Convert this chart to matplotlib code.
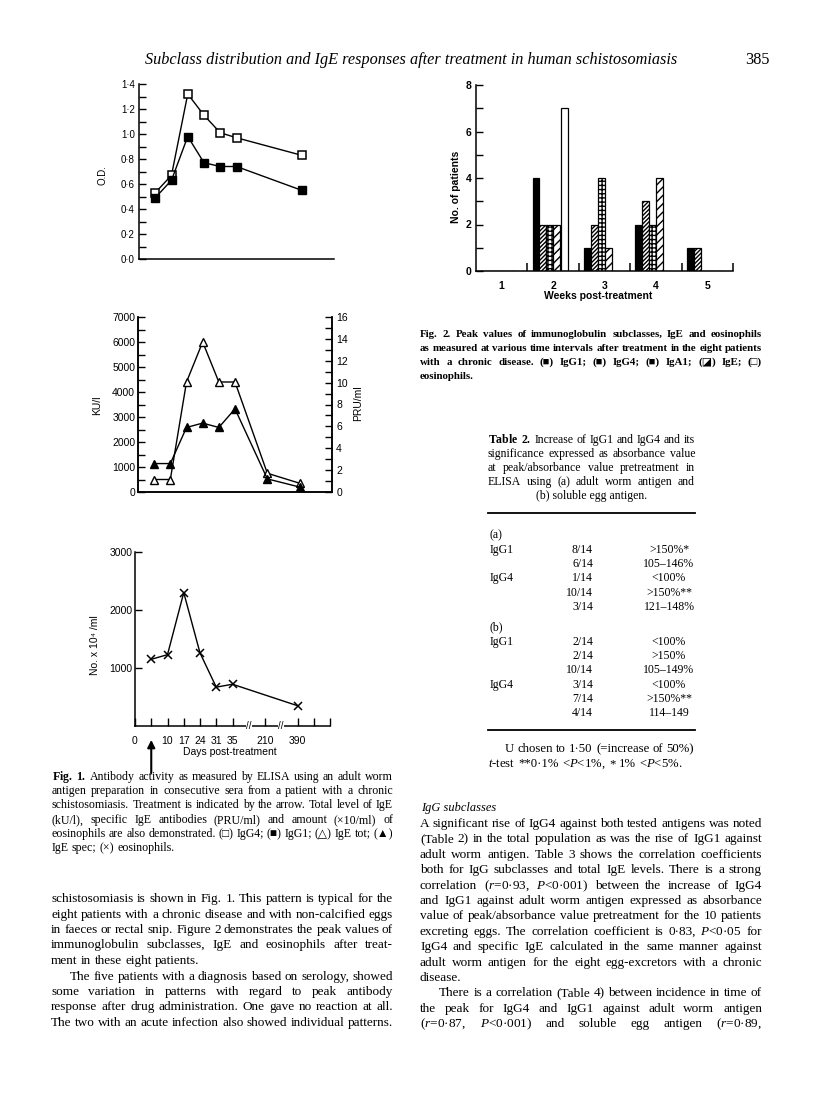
import matplotlib
matplotlib.use('Agg')
import matplotlib.pyplot as plt
from matplotlib.ticker import MultipleLocator, FuncFormatter
import matplotlib.transforms as mtransforms

W, H = 816, 1114

plt.rcParams.update({
    'font.family': ['Liberation Sans', 'DejaVu Sans'],
    'mathtext.fontset': 'custom',
    'mathtext.rm': 'Liberation Serif',
    'mathtext.it': 'Liberation Serif:italic',
    'mathtext.bf': 'Liberation Serif:bold',
    'hatch.linewidth': 1.0,
    'axes.linewidth': 1.1,
})
SERIF = ['Liberation Serif', 'DejaVu Sans']

# ---- Fig. 1 data (positions on the broken day axis) ----
pos_od = [1, 2, 3, 4, 5, 6, 10]
igg4 = [0.53, 0.67, 1.32, 1.15, 1.01, 0.97, 0.83]
igg1 = [0.49, 0.63, 0.98, 0.77, 0.74, 0.74, 0.55]

pos_ige = [1, 2, 3, 4, 5, 6, 8, 10]
ige_tot = [500, 500, 4400, 6000, 4400, 4400, 750, 350]       # KU/l
ige_spec = [2.6, 2.6, 5.9, 6.3, 5.9, 7.6, 1.2, 0.45]         # PRU/ml

pos_eos = [1, 2, 3, 4, 5, 6, 10]
eos = [1150, 1230, 2300, 1260, 670, 720, 350]

day_ticks = [0, 1, 2, 3, 4, 5, 6, 8, 10, 11, 12]
day_labels = ['0', '', '10', '17', '24', '31', '35', '210', '390', '', '']
break_pos = [7, 9]
treat_pos = 1

# ---- Fig. 2 data ----
weeks = [1, 2, 3, 4, 5]
bar_names = ['IgG1', 'IgG4', 'IgA1', 'IgE', 'eosinophils']
bar_vals = [
    [0, 4, 1, 2, 1],
    [0, 2, 2, 3, 1],
    [0, 2, 4, 2, 0],
    [0, 2, 1, 4, 0],
    [0, 7, 0, 0, 0],
]

fig = plt.figure(figsize=(W / 100, H / 100), dpi=100)
rend = fig.canvas.get_renderer()


def add_ax(l, t, r, b):
    return fig.add_axes([l / W, 1 - b / H, (r - l) / W, (b - t) / H])


def ftext(x, y, s, **kw):
    return fig.text(x / W, 1 - y / H, s, **kw)


def width_of(s, size, **kw):
    t = fig.text(0, 0, s, fontsize=size, **kw)
    w = t.get_window_extent(renderer=rend).width
    t.remove()
    return w


def para(lines, x0, x1, y0, dy, ragged=(), indent=16, s0=9.0, **kw):
    kw.setdefault('family', SERIF)
    ratio = 10.0
    for i, ln in enumerate(lines):
        if i in ragged:
            continue
        xs = x0 + (indent if ln.startswith('\t') else 0)
        ratio = min(ratio, (x1 - xs) / width_of(ln.lstrip('\t'), s0, **kw))
    size = s0 * ratio
    space = width_of('a a', size, **kw) - width_of('aa', size, **kw)
    for i, ln in enumerate(lines):
        y = round(y0 + i * dy)
        xs = x0 + (indent if ln.startswith('\t') else 0)
        words = [w for w in ln.lstrip('\t').split(' ') if w]
        ts = [ftext(xs, y, w, fontsize=size, va='baseline', **kw) for w in words]
        ws = [t.get_window_extent(renderer=rend).width for t in ts]
        if i in ragged or len(words) == 1:
            gap = space
        else:
            gap = (x1 - xs - sum(ws)) / (len(words) - 1)
        x = xs
        for t, w in zip(ts, ws):
            t.set_x(x / W)
            x += w + gap
    return size


def style_ax(ax):
    for s in ('top', 'right'):
        ax.spines[s].set_visible(False)
    ax.patch.set_alpha(0)


dot = FuncFormatter(lambda v, p: f'{v:.1f}'.replace('.', '·'))

# ---- Fig. 1a: O.D. ----
ax1 = add_ax(139, 84, 334, 259)
ax1.plot(pos_od, igg4, color='k', lw=1, marker='s', ms=5.5, mfc='white', mec='k', mew=1.1, zorder=3)
ax1.plot(pos_od, igg1, color='k', lw=1, marker='s', ms=5.5, mfc='k', mec='k', zorder=3)
ax1.set_xlim(0, 12)
ax1.set_ylim(0, 1.4)
ax1.set_xticks([])
ax1.yaxis.set_major_locator(MultipleLocator(0.2))
ax1.yaxis.set_minor_locator(MultipleLocator(0.1))
ax1.yaxis.set_major_formatter(dot)
ax1.tick_params(axis='y', which='both', direction='in', length=5, width=1, labelsize=7, pad=3)
style_ax(ax1)
ftext(103, 175, 'O.D.', rotation=90, ha='center', va='center', fontsize=7)

# ---- Fig. 1b: IgE ----
ax2 = add_ax(138, 317, 332, 492)
ax2.plot(pos_ige, ige_tot, color='k', lw=1, marker='^', ms=6, mfc='white', mec='k', mew=1, zorder=3)
ax2.set_xlim(0, 12)
ax2.set_ylim(0, 7000)
ax2.set_xticks([])
ax2.yaxis.set_major_locator(MultipleLocator(1000))
ax2.yaxis.set_minor_locator(MultipleLocator(500))
ax2.tick_params(axis='y', which='both', direction='in', length=5, width=1, labelsize=7.5, pad=2)
ax2.spines['top'].set_visible(False)
ax2.patch.set_alpha(0)
ax2r = ax2.twinx()
ax2r.plot(pos_ige, ige_spec, color='k', lw=1, marker='^', ms=6, mfc='k', mec='k', zorder=3)
ax2r.set_ylim(0, 16)
ax2r.yaxis.set_major_locator(MultipleLocator(2))
ax2r.yaxis.set_minor_locator(MultipleLocator(1))
ax2r.tick_params(axis='y', which='both', direction='in', length=5, width=1, labelsize=7.5, pad=3)
ax2r.spines['top'].set_visible(False)
ftext(97, 405, 'KU/l', rotation=90, ha='center', va='center', fontsize=7.5)
ftext(358, 403, 'PRU/ml', rotation=90, ha='center', va='center', fontsize=7.5)

# ---- Fig. 1c: eosinophils ----
ax3 = add_ax(135, 552, 330, 726)
ax3.plot(pos_eos, eos, color='k', lw=1, marker='x', ms=6, mew=1.1, zorder=3)
ax3.set_xlim(0, 12)
ax3.set_ylim(0, 3000)
ax3.set_yticks([1000, 2000, 3000])
ax3.tick_params(axis='y', direction='in', length=5, width=1, labelsize=7.5, pad=2)
ax3.set_xticks(day_ticks, day_labels)
ax3.tick_params(axis='x', direction='in', length=6, width=1, labelsize=7.5, pad=7)
style_ax(ax3)
bt = mtransforms.blended_transform_factory(ax3.transData, ax3.transAxes)
for b in break_pos:
    ax3.text(b, 0, '//', transform=bt, ha='center', va='center', fontsize=7,
             bbox=dict(fc='white', ec='none', pad=0.3), zorder=5, clip_on=False)
ax3.annotate('', xy=(treat_pos, -0.08), xytext=(treat_pos, -0.27), xycoords=bt, textcoords=bt,
             arrowprops=dict(arrowstyle='-|>', mutation_scale=11, lw=1.5, color='k',
                             shrinkA=0, shrinkB=0), annotation_clip=False)
ftext(230, 752, 'Days post-treatment', ha='center', va='center', fontsize=7.5)
ftext(95, 645, 'No. x 10⁴ /ml', rotation=90, ha='center', va='center', fontsize=7.5)

# ---- Fig. 2: bars ----
axb = add_ax(476, 85, 733, 271)
styles = [dict(fc='black'), dict(fc='white', hatch='////////'), dict(fc='white', hatch='++++'),
          dict(fc='white', hatch='////'), dict(fc='white')]
bw = 0.135
for i, (vals, st) in enumerate(zip(bar_vals, styles)):
    shift = 0.02 if i == 4 else 0.0
    xs = [w - 0.5 + 0.1 + (i + 0.5) * bw + shift for w in weeks]
    axb.bar(xs, vals, width=bw, ec='k', lw=0.9, label=bar_names[i], **st)
axb.set_xlim(0.5, 5.5)
axb.set_ylim(0, 8)
axb.yaxis.set_major_locator(MultipleLocator(2))
axb.yaxis.set_minor_locator(MultipleLocator(1))
axb.set_xticks([w + 0.5 for w in weeks], [''] * len(weeks))
axb.set_xticks(weeks, [str(w) for w in weeks], minor=True)
axb.tick_params(axis='y', which='both', direction='in', length=5, width=1, labelsize=7.5, pad=3)
axb.tick_params(axis='x', which='major', direction='in', length=6, width=1.1)
axb.tick_params(axis='x', which='minor', length=0, labelsize=7.5, pad=7)
for lab in axb.get_xticklabels(minor=True) + axb.get_yticklabels():
    lab.set_fontweight('bold')
style_ax(axb)
ftext(456, 187, 'No. of patients', rotation=90, ha='center', va='center', fontsize=7.5, fontweight='bold')
ftext(598, 296, 'Weeks post-treatment', ha='center', va='center', fontsize=7.5, fontweight='bold')

# ---- page header ----
head = 'Subclass distribution and IgE responses after treatment in human schistosomiasis'
hs = 10 * 531 / width_of(head, 10, family=SERIF, fontstyle='italic')
ftext(145, 64, head, fontsize=hs, family=SERIF, fontstyle='italic', va='baseline')
ftext(745, 64, '385', fontsize=hs, family=SERIF, va='baseline')

# ---- Fig. 2 caption ----
cap2 = [
    'Fig. 2. Peak values of immunoglobulin subclasses, IgE and eosinophils',
    'as measured at various time intervals after treatment in the eight patients',
    'with a chronic disease. (■) IgG1; (■) IgG4; (■) IgA1; (◪) IgE; (□)',
    'eosinophils.',
]
para(cap2, 420, 762, 337, 14, ragged={3}, fontweight='bold')

# ---- Table 2 ----
tcap = [
    r'$\mathbf{Table}$ $\mathbf{2.}$ Increase of IgG1 and IgG4 and its',
    'significance expressed as absorbance value',
    'at peak/absorbance value pretreatment in',
    'ELISA using (a) adult worm antigen and',
]
ts = para(tcap, 488, 695, 443, 14)
ftext(591.5, 443 + 4 * 14, '(b) soluble egg antigen.', fontsize=ts, family=SERIF, ha='center', va='baseline')

fig.add_artist(plt.Line2D([488 / W, 695 / W], [1 - 513 / H] * 2, color='k', lw=1.3))
fig.add_artist(plt.Line2D([488 / W, 695 / W], [1 - 730 / H] * 2, color='k', lw=1.3))

grp_a = ['IgG1', '', 'IgG4', '', '']
frac_a = ['8/14', '6/14', '1/14', '10/14', '3/14']
pct_a = ['>150%*', '105–146%', '<100%', '>150%**', '121–148%']
grp_b = ['IgG1', '', '', 'IgG4', '', '']
frac_b = ['2/14', '2/14', '10/14', '3/14', '7/14', '4/14']
pct_b = ['<100%', '>150%', '105–149%', '<100%', '>150%**', '114–149']

for head_y, y0, grp, frac, pct, tag in ((538, 553, grp_a, frac_a, pct_a, '(a)'),
                                       (630, 645, grp_b, frac_b, pct_b, '(b)')):
    ftext(489, head_y, tag, fontsize=ts, family=SERIF, va='baseline')
    for k, (g, f, p) in enumerate(zip(grp, frac, pct)):
        y = round(y0 + k * 14.2)
        if g:
            ftext(490, y, g, fontsize=ts, family=SERIF, va='baseline')
        ftext(593, y, f, fontsize=ts, family=SERIF, va='baseline', ha='right')
        ftext(669, y, p, fontsize=ts, family=SERIF, va='baseline', ha='center')

foot = [
    '\tU chosen to 1·50 (=increase of 50%)',
    r'$\mathit{t}$-test **0·1% <$\mathit{P}$<1%, * 1% <$\mathit{P}$<5%.',
]
para(foot, 488, 694, 752, 15, ragged={1}, indent=17)

# ---- Fig. 1 caption ----
cap1 = [
    r'$\mathbf{Fig.}$ $\mathbf{1.}$ Antibody activity as measured by ELISA using an adult worm',
    'antigen preparation in consecutive sera from a patient with a chronic',
    'schistosomiasis. Treatment is indicated by the arrow. Total level of IgE',
    '(kU/l), specific IgE antibodies (PRU/ml) and amount (×10/ml) of',
    'eosinophils are also demonstrated. (□) IgG4; (■) IgG1; (△) IgE tot; (▲)',
    'IgE spec; (×) eosinophils.',
]
para(cap1, 52, 393, 780, 14.2, ragged={5})

# ---- body text ----
body_l = [
    'schistosomiasis is shown in Fig. 1. This pattern is typical for the',
    'eight patients with a chronic disease and with non-calcified eggs',
    'in faeces or rectal snip. Figure 2 demonstrates the peak values of',
    'immunoglobulin subclasses, IgE and eosinophils after treat-',
    'ment in these eight patients.',
    '\tThe five patients with a diagnosis based on serology, showed',
    'some variation in patterns with regard to peak antibody',
    'response after drug administration. One gave no reaction at all.',
    'The two with an acute infection also showed individual patterns.',
]
para(body_l, 51, 393, 902, 15.5, ragged={4}, indent=19)

ftext(421, 811, 'IgG subclasses', fontsize=ts * 1.05, family=SERIF, fontstyle='italic', va='baseline')
body_r = [
    'A significant rise of IgG4 against both tested antigens was noted',
    '(Table 2) in the total population as was the rise of IgG1 against',
    'adult worm antigen. Table 3 shows the correlation coefficients',
    'both for IgG subclasses and total IgE levels. There is a strong',
    r'correlation ($\mathit{r}$=0·93, $\mathit{P}$<0·001) between the increase of IgG4',
    'and IgG1 against adult worm antigen expressed as absorbance',
    'value of peak/absorbance value pretreatment for the 10 patients',
    r'excreting eggs. The correlation coefficient is 0·83, $\mathit{P}$<0·05 for',
    'IgG4 and specific IgE calculated in the same manner against',
    'adult worm antigen for the eight egg-excretors with a chronic',
    'disease.',
    '\tThere is a correlation (Table 4) between incidence in time of',
    'the peak for IgG4 and IgG1 against adult worm antigen',
    r'($\mathit{r}$=0·87, $\mathit{P}$<0·001) and soluble egg antigen ($\mathit{r}$=0·89,',
]
para(body_r, 420, 762, 827, 15.4, ragged={10}, indent=19)

fig.savefig('out.png', dpi=100)
